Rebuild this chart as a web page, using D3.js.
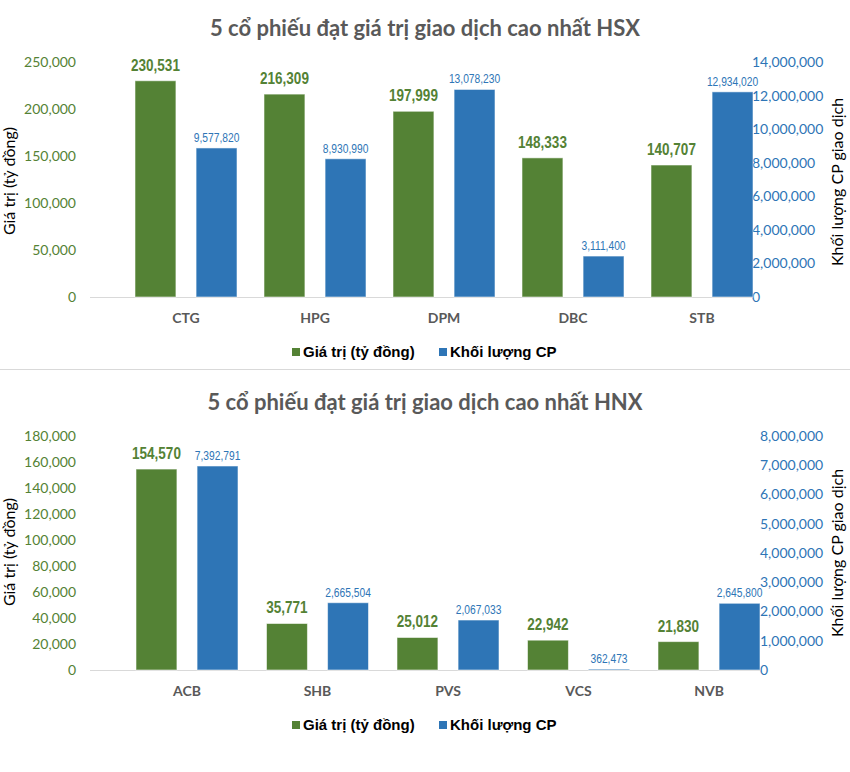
<!DOCTYPE html>
<html>
<head>
<meta charset="utf-8">
<script src="https://cdn.jsdelivr.net/npm/d3@7"></script>
<style>
  html, body { margin: 0; padding: 0; background: #fff; }
  svg { display: block; }
</style>
</head>
<body>
<svg id="chart" width="850" height="772"></svg>
<script>
// ---------------- DATA ----------------
const seriesNames = ["Giá trị (tỷ đồng)", "Khối lượng CP"];

const hsxTitle = "5 cổ phiếu đạt giá trị giao dịch cao nhất HSX";
const hsxCategories = ["CTG", "HPG", "DPM", "DBC", "STB"];
const hsxValue = [230531, 216309, 197999, 148333, 140707];
const hsxVolume = [9577820, 8930990, 13078230, 3111400, 12934020];
const hsxLeftTicks = [0, 50000, 100000, 150000, 200000, 250000];
const hsxRightTicks = [0, 2000000, 4000000, 6000000, 8000000, 10000000, 12000000, 14000000];

const hnxTitle = "5 cổ phiếu đạt giá trị giao dịch cao nhất HNX";
const hnxCategories = ["ACB", "SHB", "PVS", "VCS", "NVB"];
const hnxValue = [154570, 35771, 25012, 22942, 21830];
const hnxVolume = [7392791, 2665504, 2067033, 362473, 2645800];
const hnxLeftTicks = [0, 20000, 40000, 60000, 80000, 100000, 120000, 140000, 160000, 180000];
const hnxRightTicks = [0, 1000000, 2000000, 3000000, 4000000, 5000000, 6000000, 7000000, 8000000];

const leftAxisTitle = "Giá trị (tỷ đồng)";
const rightAxisTitle = "Khối lượng CP giao dịch";

// ---------------- STYLE ----------------
const GREEN = "#548235";
const BLUE = "#2e75b6";
const GREY = "#595959";
const ARIAL = "'Liberation Sans', Arial, sans-serif";
const SANS = "Lato, 'Open Sans', sans-serif";
const NARROW_SCALE = 0.82;

const svg = d3.select("#chart");
const fmt = d3.format(",");

function drawChart(cfg) {
  const g = svg.append("g");

  // title
  g.append("text")
    .attr("x", 425).attr("y", cfg.titleY)
    .attr("text-anchor", "middle")
    .attr("font-family", SANS).attr("font-weight", "bold")
    .attr("font-size", 22).attr("fill", GREY)
    .text(cfg.title);

  const x0 = d3.scaleBand().domain(cfg.categories).range(cfg.xRange).padding(0);
  const x1 = d3.scaleBand().domain(seriesNames).range([-51, 51]).paddingInner(0.33).paddingOuter(0);

  const yL = d3.scaleLinear().domain([0, cfg.leftTicks[cfg.leftTicks.length - 1]]).range([cfg.y0, cfg.yTop]);
  const yR = d3.scaleLinear().domain([0, cfg.rightTicks[cfg.rightTicks.length - 1]]).range([cfg.y0, cfg.yTop]);
  // the volume bars in the original sit on a slightly shifted secondary scale
  const yBar = d3.scaleLinear().domain(cfg.barDomain).range([cfg.y0, cfg.yTop]).clamp(true);

  const rows = cfg.categories.map((c, i) => ({ cat: c, value: cfg.value[i], volume: cfg.volume[i] }));

  // baseline
  g.append("line")
    .attr("x1", cfg.axisX0).attr("x2", cfg.axisX1)
    .attr("y1", cfg.y0 + 0.5).attr("y2", cfg.y0 + 0.5)
    .attr("stroke", "#d9d9d9").attr("stroke-width", 1);

  // left axis
  const la = g.append("g").attr("transform", `translate(${cfg.axisX0},0)`)
    .call(d3.axisLeft(yL).tickValues(cfg.leftTicks).tickSize(0).tickPadding(14).tickFormat(fmt));
  la.select(".domain").remove();
  la.selectAll("text").attr("font-family", SANS).attr("font-size", 14).attr("fill", GREEN);

  // right axis
  const ra = g.append("g").attr("transform", `translate(${cfg.rightAxisX},0)`)
    .call(d3.axisRight(yR).tickValues(cfg.rightTicks).tickSize(0).tickPadding(0).tickFormat(fmt));
  ra.select(".domain").remove();
  ra.selectAll("text").attr("font-family", SANS).attr("font-size", 14).attr("fill", BLUE);

  // bars
  const grp = g.selectAll(".grp").data(rows).enter().append("g")
    .attr("transform", d => `translate(${x0(d.cat) + x0.bandwidth() / 2},0)`);

  grp.append("rect")
    .attr("x", x1(seriesNames[0])).attr("width", x1.bandwidth())
    .attr("y", d => yL(d.value)).attr("height", d => cfg.y0 - yL(d.value))
    .attr("fill", GREEN).attr("stroke", "#ffffff").attr("stroke-opacity", 0.55).attr("stroke-width", 1);

  const volTop = d => Math.min(yBar(d.volume), cfg.y0 - 1);
  grp.append("rect")
    .attr("x", x1(seriesNames[1])).attr("width", x1.bandwidth())
    .attr("y", volTop).attr("height", d => cfg.y0 - volTop(d))
    .attr("fill", BLUE).attr("stroke", "#ffffff").attr("stroke-opacity", 0.55).attr("stroke-width", 1);

  // data labels (narrow type, made by horizontal scaling)
  grp.append("text")
    .attr("transform", d => `translate(${x1(seriesNames[0]) + x1.bandwidth() / 2},${yL(d.value) - 10}) scale(${NARROW_SCALE},1)`)
    .attr("text-anchor", "middle")
    .attr("font-family", ARIAL).attr("font-weight", "bold").attr("font-size", 16.5)
    .attr("fill", GREEN)
    .text(d => fmt(d.value));

  grp.append("text")
    .attr("transform", d => `translate(${x1(seriesNames[1]) + x1.bandwidth() / 2},${volTop(d) - 6}) scale(${NARROW_SCALE},1)`)
    .attr("text-anchor", "middle")
    .attr("font-family", ARIAL).attr("font-size", 12.5)
    .attr("fill", BLUE)
    .text(d => fmt(d.volume));

  // category labels
  grp.append("text")
    .attr("x", 0).attr("y", cfg.y0 + 26)
    .attr("text-anchor", "middle")
    .attr("font-family", SANS).attr("font-weight", "bold").attr("font-size", 14)
    .attr("fill", GREY)
    .text(d => d.cat);

  // axis titles
  g.append("text")
    .attr("transform", `translate(15,${cfg.leftTitleY}) rotate(-90)`)
    .attr("text-anchor", "middle")
    .attr("font-family", SANS).attr("font-size", 16).attr("fill", "#000")
    .text(leftAxisTitle);

  g.append("text")
    .attr("transform", `translate(843,${cfg.rightTitleY}) rotate(-90)`)
    .attr("text-anchor", "middle")
    .attr("font-family", SANS).attr("font-size", 16).attr("fill", "#000")
    .text(rightAxisTitle);

  // legend
  const leg = g.append("g").attr("transform", `translate(0,${cfg.legendY})`);
  const items = [
    { name: seriesNames[0], color: GREEN, x: 292 },
    { name: seriesNames[1], color: BLUE, x: 439 }
  ];
  items.forEach(it => {
    leg.append("rect").attr("x", it.x).attr("y", -4).attr("width", 8).attr("height", 8).attr("fill", it.color);
    leg.append("text").attr("x", it.x + 11).attr("y", 0).attr("dy", "0.36em")
      .attr("font-family", ARIAL).attr("font-weight", "bold").attr("font-size", 15)
      .attr("fill", "#000").text(it.name);
  });
}

drawChart({
  title: hsxTitle, titleY: 36,
  categories: hsxCategories, value: hsxValue, volume: hsxVolume,
  leftTicks: hsxLeftTicks, rightTicks: hsxRightTicks,
  xRange: [121.5, 766.5], axisX0: 90, axisX1: 752, rightAxisX: 752,
  y0: 297, yTop: 62.5,
  barDomain: [662000, 14690000],
  leftTitleY: 181, rightTitleY: 182, legendY: 352
});

// separator
svg.append("line").attr("x1", 0).attr("x2", 850).attr("y1", 369.5).attr("y2", 369.5)
  .attr("stroke", "#d9d9d9").attr("stroke-width", 1);

drawChart({
  title: hnxTitle, titleY: 410,
  categories: hnxCategories, value: hnxValue, volume: hnxVolume,
  leftTicks: hnxLeftTicks, rightTicks: hnxRightTicks,
  xRange: [121.75, 774.25], axisX0: 90, axisX1: 760, rightAxisX: 760,
  y0: 670, yTop: 436,
  barDomain: [339000, 8430000],
  leftTitleY: 552, rightTitleY: 553, legendY: 725
});
</script>
</body>
</html>
